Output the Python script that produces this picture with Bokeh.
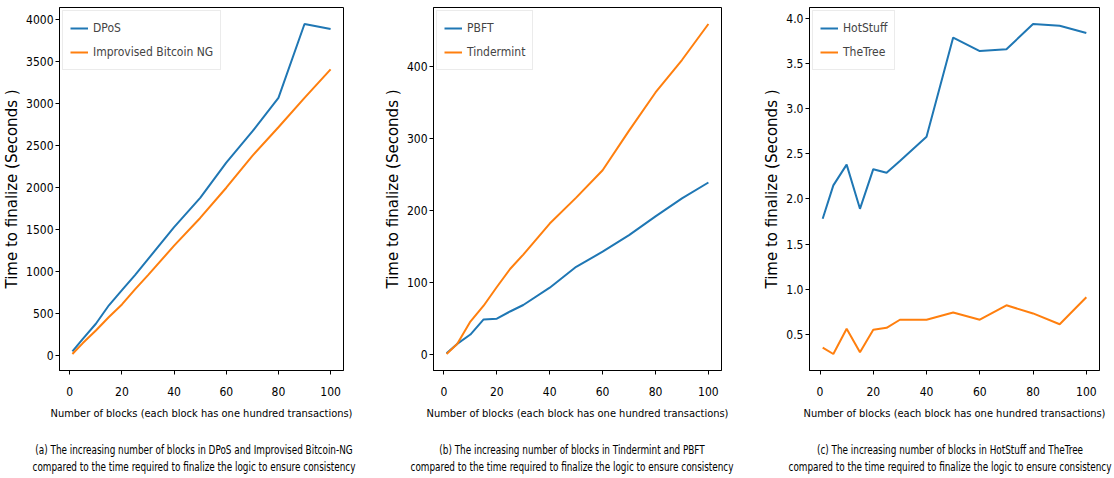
from bokeh.plotting import figure
from bokeh.layouts import row, column
from bokeh.models import Range1d, FixedTicker, Legend, LegendItem, Div, NumeralTickFormatter
from bokeh.embed import file_html
from bokeh.resources import INLINE

blocks = [1, 5, 10, 15, 20, 25, 30, 40, 50, 60, 70, 80, 90, 100]
dpos = [50, 200, 380, 600, 780, 960, 1150, 1530, 1880, 2300, 2670, 3070, 3950, 3890]
bitcoin_ng = [20, 150, 300, 460, 610, 790, 960, 1310, 1640, 2000, 2380, 2720, 3070, 3410]
pbft = [2, 15, 28, 49, 50, 60, 69, 93, 122, 143, 166, 192, 217, 239]
tindermint = [1, 15, 46, 68, 94, 119, 139, 182, 218, 256, 311, 364, 409, 459]
hotstuff = [1.78, 2.15, 2.38, 1.89, 2.33, 2.29, 2.42, 2.69, 3.79, 3.64, 3.66, 3.94, 3.92, 3.84]
thetree = [0.35, 0.28, 0.56, 0.30, 0.55, 0.57, 0.66, 0.66, 0.74, 0.66, 0.82, 0.73, 0.61, 0.91]

x_ticks = [0, 20, 40, 60, 80, 100]
a_yticks = [0, 500, 1000, 1500, 2000, 2500, 3000, 3500, 4000]
b_yticks = [0, 100, 200, 300, 400]
c_yticks = [0.5, 1.0, 1.5, 2.0, 2.5, 3.0, 3.5, 4.0]

x_label = "Number of blocks (each block has one hundred transactions)"
y_label = "Time to finalize (Seconds )"
captions = [
    ("(a) The increasing number of blocks in DPoS and Improvised Bitcoin-NG",
     "compared to the time required to finalize the logic to ensure consistency"),
    ("(b) The increasing number of blocks in Tindermint and PBFT",
     "compared to the time required to finalize the logic to ensure consistency"),
    ("(c) The increasing number of blocks in HotStuff and TheTree",
     "compared to the time required to finalize the logic to ensure consistency"),
]

BLUE = "#1f77b4"
ORANGE = "#ff7f0e"
COND = "DejaVu Sans Condensed"


def pad(vals):
    lo, hi = min(vals), max(vals)
    d = (hi - lo) * 0.05
    return lo - d, hi + d


def panel(width, bl, br, s1, s2, n1, n2, yticks):
    p = figure(width=width, height=428, output_backend="svg", toolbar_location=None,
               min_border_left=bl, min_border_right=br, min_border_top=7,
               min_border_bottom=58)
    xl, xh = pad(blocks)
    yl, yh = pad(s1 + s2)
    p.x_range = Range1d(xl, xh)
    p.y_range = Range1d(yl, yh)
    r1 = p.line(blocks, s1, line_color=BLUE, line_width=2)
    r2 = p.line(blocks, s2, line_color=ORANGE, line_width=2)
    p.grid.visible = False
    p.outline_line_color = "black"
    p.outline_line_width = 1
    p.outline_line_alpha = 1
    p.xaxis.ticker = FixedTicker(ticks=x_ticks)
    p.yaxis.ticker = FixedTicker(ticks=yticks)
    for ax in (p.xaxis[0], p.yaxis[0]):
        ax.major_tick_out = 4
        ax.major_tick_in = 0
        ax.minor_tick_line_color = None
        ax.axis_line_color = "black"
        ax.major_label_text_font = COND
        ax.major_label_text_font_size = "12px"
        ax.major_label_text_color = "black"
        ax.axis_label_text_font_style = "normal"
        ax.axis_label_text_color = "black"
    p.xaxis.major_label_standoff = 12
    p.yaxis.major_label_standoff = 2
    p.xaxis.axis_label = x_label
    p.xaxis.axis_label_text_font = COND
    p.xaxis.axis_label_text_font_size = "11px"
    p.xaxis.axis_label_standoff = 8
    p.yaxis.axis_label = y_label
    p.yaxis.axis_label_text_font = "DejaVu Sans"
    p.yaxis.axis_label_text_font_size = "15px"
    p.yaxis.axis_label_standoff = 2
    legend = Legend(items=[LegendItem(label=n1, renderers=[r1]),
                           LegendItem(label=n2, renderers=[r2])],
                    location="top_left", margin=3, padding=7, spacing=4,
                    glyph_width=18, glyph_height=20, label_standoff=5,
                    label_text_font=COND, label_text_font_size="12px",
                    border_line_color="#d8d8d8", border_line_width=1,
                    background_fill_alpha=0.9)
    p.add_layout(legend)
    return p


def cap(width, lines, margin_left):
    inner = ('<div style="width:400px;margin-left:%dpx;text-align:center;white-space:nowrap;'
             'font-family:\'DejaVu Sans Condensed\';font-size:12px;line-height:17px;'
             'padding-top:14px;color:black;transform:scaleX(0.82);transform-origin:50%% 0">'
             '%s<br>%s</div>') % (margin_left, lines[0], lines[1])
    return Div(text=inner, width=width, height=50, margin=0)


pa = panel(380, 51, 37, dpos, bitcoin_ng, "DPoS", "Improvised Bitcoin NG", a_yticks)
pb = panel(380, 48, 39, pbft, tindermint, "PBFT", "Tindermint", b_yticks)
pc = panel(354, 47, 15, hotstuff, thetree, "HotStuff", "TheTree", c_yticks)
pc.yaxis.formatter = NumeralTickFormatter(format="0.0")

ca = cap(380, captions[0], -6)
cb = cap(380, captions[1], -8)
cc = cap(354, captions[2], -10)

layout = column(row(pa, pb, pc, spacing=0), row(ca, cb, cc, spacing=0), spacing=0)
open("out.html", "w").write(file_html(layout, INLINE))
